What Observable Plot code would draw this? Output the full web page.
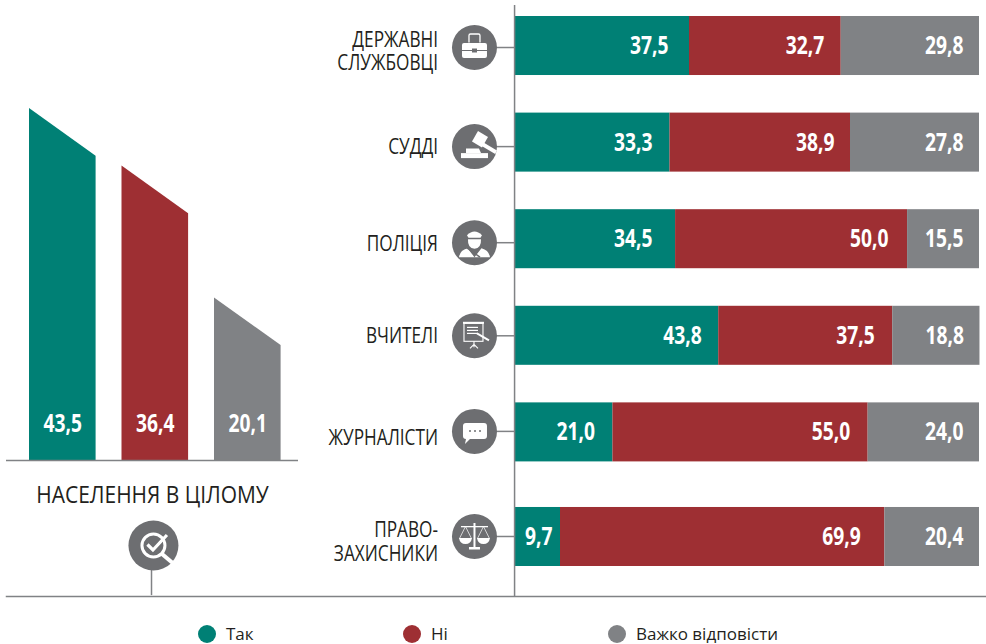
<!DOCTYPE html>
<html><head><meta charset="utf-8">
<script src="https://cdn.jsdelivr.net/npm/d3@7"></script>
<script src="https://cdn.jsdelivr.net/npm/@observablehq/plot@0.6"></script>
<style>
html,body{margin:0;padding:0;background:#fff;overflow:hidden}
#wrap{position:relative;width:986px;height:644px}
#wrap svg{position:absolute;left:0;top:0;background:transparent;overflow:visible}
.leg{position:absolute;top:622px;font:17px "Open Sans",sans-serif;color:#231f20;white-space:nowrap}
.leg i{position:absolute;left:-28px;top:3px;width:18px;height:18px;border-radius:50%}
</style></head><body><div id="wrap"></div>
<script>
const answers = ["Так", "Ні", "Важко відповісти"];
const colors = ["#008075", "#9e2f33", "#808285"];
const overall = [43.5, 36.4, 20.1];
const overallTitle = "НАСЕЛЕННЯ В ЦІЛОМУ";
const groups = ["ДЕРЖАВНІ\nСЛУЖБОВЦІ", "СУДДІ", "ПОЛІЦІЯ", "ВЧИТЕЛІ", "ЖУРНАЛІСТИ", "ПРАВО-\nЗАХИСНИКИ"];
const yes = [37.5, 33.3, 34.5, 43.8, 21.0, 9.7];
const no = [32.7, 38.9, 50.0, 37.5, 55.0, 69.9];
const hard = [29.8, 27.8, 15.5, 18.8, 24.0, 20.4];

const font = '"Open Sans",sans-serif';
const ink = "#231f20", dark = "#6d6e71", line = "#808285";
const fmt = v => v.toFixed(1).replace(".", ",");

// Icon glyphs (white drawings on the grey discs)
const W = 'fill="#fff"', S = 'fill="none" stroke="#fff"';
const glyphs = [
 `<path d="M10 20q0-2 2-2h21q2 0 2 2v5h-10v-1.500h-5v1.500h-10z" ${W}/><path d="M10 26h10v1.500h5v-1.500h10v5q0 2-2 2h-21q-2 0-2-2z" ${W}/><path d="M17 17.500v-7q0-1.500 1.500-1.500h8q1.500 0 1.500 1.500v7" ${S} stroke-width="1.300"/>`,
 `<g ${W}><path d="M20 17.500l6-10.500 10 6-6 10.500z"/><path d="M29 17l16 9.500-1.800 3.500-16-9.500z"/><path d="M14 24.500h13l2 4.500h-15z"/><rect x="9" y="29" width="27" height="5"/></g>`,
 `<g ${W}><path d="M15 15q7.500-7.500 15 0l-1.500 2.500h-12z"/><path d="M16 19h13q.5 9-6.500 9.500q-7-.5-6.500-9.500z"/><path d="M7 37q1-7 8.500-9l7 9zM38 37q-1-7-8.500-9l-7 9z"/></g><path d="M14 27l14 10" stroke="#6d6e71" stroke-width="1.500"/>`,
 `<g ${S} stroke-width="1.100"><rect x="12" y="10" width="19" height="18"/><path d="M22 28v6M22 31l-4 4M22 31l4 4"/></g><g ${W}><rect x="11" y="8.500" width="21" height="2"/><rect x="15" y="13.500" width="11" height="1.200"/><rect x="15" y="16.500" width="11" height="1.200"/><rect x="15" y="19.500" width="11" height="1.200"/></g><path d="M25 20l12 7" stroke="#fff" stroke-width="2"/>`,
 `<path d="M14 14h18q3 0 3 3v10q0 3-3 3h-14l-5 5 1-5q-3 0-3-3v-10q0-3 3-3z" ${W}/><g fill="#6d6e71"><circle cx="18" cy="22" r="1"/><circle cx="23" cy="22" r="1"/><circle cx="28" cy="22" r="1"/></g>`,
 `<g ${W}><rect x="21.500" y="9" width="2" height="24"/><rect x="9" y="12" width="27" height="1.300"/><path d="M17 33h11v2.500h-11zM7 24h13q-1 6-6.500 6t-6.500-6zM25 24h13q-1 6-6.500 6t-6.500-6z"/></g><path d="M13.500 12.500l-6 12M13.500 12.500l6 12M31.500 12.500l-6 12M31.500 12.500l6 12" ${S} stroke-width=".7"/>`
];
const magnifier = `<circle cx="25" cy="25" r="11.500" ${S} stroke-width="3"/><path d="M19 24l5.500 5.500 14-15" ${S} stroke-width="3.200"/><path d="M33 33l13 11" stroke="#fff" stroke-width="4"/>`;
const uri = (g, n) => "data:image/svg+xml," + encodeURIComponent(`<svg xmlns="http://www.w3.org/2000/svg" viewBox="0 0 ${n} ${n}" width="${n}" height="${n}">${g}</svg>`);

// Right chart
const series = [yes, no, hard];
const rows = groups.flatMap((g, i) => {
  let sum = 0;
  return answers.map((a, k) => {
    const v = series[k][i], start = sum; sum += v;
    return {g, i, k, answer: a, value: v, start, end: sum, label: fmt(v)};
  });
});
const barDy = i => i === 5 ? 8 : 0;
const iconDy = [1.5, 4, 3.5, 0, -1, 7.5];
const textDy = [5, 4, 4.5, 0, 5, 12.5];
const valueDx = [[-21, -17.5, -23, -17, -18, -8], [-17, -16, -19, -18, -18, -24], [-16, -16, -16, -16, -16, -16]];
const valueFont = {fill: "#fff", fontWeight: 700, fontSize: 25, fontFamily: font, textAnchor: "end"};

const right = Plot.plot({
  width: 986, height: 600, marginTop: 5, marginBottom: 4, marginLeft: 6, marginRight: 0,
  x: {domain: [0, 100], range: [515, 979], axis: null},
  y: {domain: groups, range: [16, 558], paddingInner: 0.389, paddingOuter: 0, round: false, axis: null},
  color: {domain: answers, range: colors},
  marks: [
    Plot.barX(rows.filter(r => r.i < 5), {x1: "start", x2: "end", y: "g", fill: "answer"}),
    Plot.barX(rows.filter(r => r.i === 5), {x1: "start", x2: "end", y: "g", fill: "answer", dy: 8}),
    Plot.frame({anchor: "bottom", stroke: line, strokeWidth: 1.5}),
    Plot.ruleX([-0.2], {stroke: line, strokeWidth: 1.5}),
    ...groups.flatMap((g, i) => [
      Plot.ruleY([g], {x1: () => -4.5, x2: () => -0.2, stroke: line, strokeWidth: 1.5, dy: iconDy[i]}),
      Plot.dot([g], {x: () => -8.84, y: d => d, r: 22.5, fill: dark, dy: iconDy[i]}),
      Plot.image([g], {x: () => -8.84, y: d => d, src: () => uri(glyphs[i], 45), width: 45, height: 45, dy: iconDy[i]}),
      Plot.text([g], {x: () => -16.7, y: d => d, text: d => d, textAnchor: "end", lineHeight: 1.11, fontSize: 21, fontFamily: font, fill: ink, dy: textDy[i]})
    ]),
    ...rows.map(r => Plot.text([r], {x: "end", y: "g", text: "label", dx: valueDx[r.k][r.i], dy: barDy(r.i), ...valueFont}))
  ]
});

// Left chart: slanted columns
const slot = 0.72, slant = 5.9;
const columns = answers.flatMap((a, k) => [
  {answer: a, x: k, base: 0, top: overall[k]},
  {answer: a, x: k + slot, base: 0, top: overall[k] - slant}
]);
const left = Plot.plot({
  width: 298, height: 600, marginTop: 0, marginBottom: 0, marginLeft: 6, marginRight: 0,
  x: {domain: [0, 3], range: [29, 306.5], axis: null},
  y: {domain: [0, 56.86], range: [460, 0], axis: null},
  color: {domain: answers, range: colors},
  marks: [
    Plot.area(columns, {x1: "x", y1: "base", y2: "top", z: "answer", fill: "answer"}),
    Plot.ruleY([0], {stroke: line, strokeWidth: 1.5}),
    Plot.text(overall, {x: (d, i) => i + slot / 2, y: () => 0, text: d => fmt(d), dy: -37, ...valueFont, textAnchor: "middle"}),
    Plot.text([overallTitle], {x: () => 1.33, y: () => 0, text: d => d, dy: 35, fontSize: 24.5, fontFamily: font, fill: ink}),
    Plot.ruleX([1.319], {y1: () => -13, y2: () => -16.7, stroke: line, strokeWidth: 1.5}),
    Plot.dot([0], {x: () => 1.34, y: () => 0, dy: 85, r: 25, fill: dark}),
    Plot.image([0], {x: () => 1.34, y: () => 0, dy: 85, src: () => uri(magnifier, 50), width: 50, height: 50})
  ]
});

const wrap = document.getElementById("wrap");
wrap.append(right, left);

// The reference's type is condensed and none of the installed faces is, so narrow the glyphs.
const squeeze = {"25px": 0.77, "21px": 0.82, "24.5px": 0.855};
wrap.querySelectorAll("svg text").forEach(t => {
  const k = squeeze[getComputedStyle(t).fontSize] ?? 1;
  const parts = t.querySelectorAll("tspan");
  (parts.length ? [...parts] : [t]).forEach(el => {
    el.setAttribute("textLength", el.getComputedTextLength() * k);
    el.setAttribute("lengthAdjust", "spacingAndGlyphs");
  });
});

[[226, 0], [431, 1], [636, 2]].forEach(([x, k]) => {
  const s = document.createElement("div");
  s.className = "leg"; s.style.left = x + "px"; s.textContent = answers[k];
  const dot = document.createElement("i"); dot.style.background = colors[k];
  s.prepend(dot); wrap.append(s);
});
</script></body></html>
